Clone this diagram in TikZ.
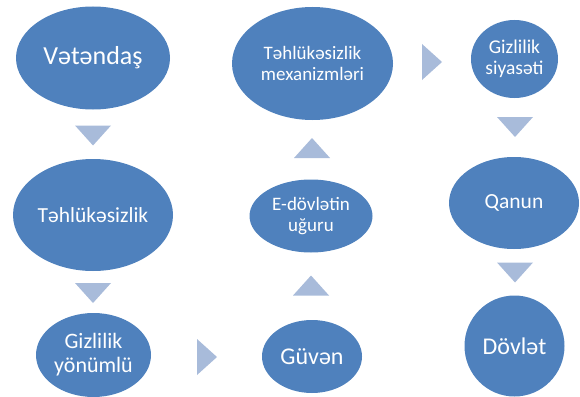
\documentclass[tikz,border=0pt]{standalone}
\usepackage{fontspec}
\setmainfont{Carlito}
\usetikzlibrary{shapes.geometric}
\definecolor{ovalblue}{HTML}{4F81BD}
\definecolor{chevblue}{HTML}{A8BBDA}
\tikzset{oval/.style={ellipse,fill=ovalblue,text=white,align=center,inner sep=0pt},
chev/.style={fill=chevblue}}
\begin{document}
\begin{tikzpicture}[x=1pt,y=-1pt]
\useasboundingbox(0,0)rectangle(580,396);
% left column
\node[oval,minimum width=154,minimum height=103,font=\fontsize{26}{28}\selectfont](vet)at(93,58){Vətəndaş};
\node[oval,minimum width=160,minimum height=112,font=\fontsize{21.5}{23}\selectfont](tehl)at(93,215){Təhlükəsizlik};
\node[oval,minimum width=115,minimum height=84,font=\fontsize{22}{24}\selectfont](gyon)at(93.5,355){Gizlilik\\yönümlü};
% middle column
\node[oval,minimum width=100,minimum height=73,font=\fontsize{24}{26}\selectfont](guv)at(312,356.5){Güvən};
\node[oval,minimum width=123,minimum height=73,font=\fontsize{19}{20.5}\selectfont](edov)at(311,216){E-dövlətin\\uğuru};
\node[oval,minimum width=161,minimum height=113,font=\fontsize{19}{20.5}\selectfont](mex)at(312.5,63.5){Təhlükəsizlik\\mexanizmləri};
% right column
\node[oval,minimum width=87,minimum height=78,font=\fontsize{19.5}{21}\selectfont](gsiy)at(514.5,59){Gizlilik\\siyasəti};
\node[oval,minimum width=130,minimum height=92,font=\fontsize{21.5}{23}\selectfont](qan)at(514,203){Qanun};
\node[oval,minimum width=100,minimum height=101,font=\fontsize{24}{26}\selectfont](dov)at(514.5,346){Dövlət};
% chevrons
\foreach \x/\y/\r in {93/135.5/0,93/293/0,207/357/90,311/285.5/180,312/148/180,432/62/90,515/127/0,515/272.5/0}
\fill[chev,rotate around={\r:(\x,\y)}](\x-18,\y-10)--(\x+18,\y-10)--(\x,\y+10)--cycle;
\end{tikzpicture}
\end{document}
